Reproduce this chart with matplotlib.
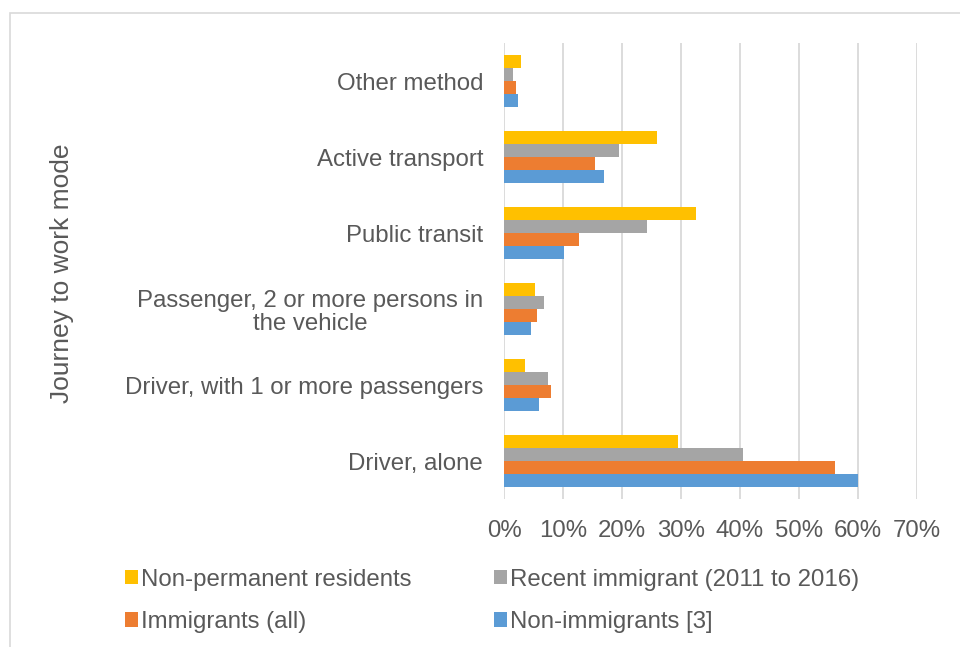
import numpy as np
import matplotlib
matplotlib.use("Agg")
import matplotlib.pyplot as plt
from matplotlib.patches import Rectangle

plt.rcParams['font.family'] = ['Liberation Sans', 'DejaVu Sans']

# journey to work mode, bottom to top
modes = ["Driver, alone",
         "Driver, with 1 or more passengers",
         "Passenger, 2 or more persons in\nthe vehicle",
         "Public transit",
         "Active transport",
         "Other method"]

# shares of commuters by group
non_immigrants = [0.600, 0.059, 0.045, 0.101, 0.170, 0.024]
immigrants_all = [0.561, 0.079, 0.056, 0.127, 0.155, 0.021]
recent_immigrant = [0.405, 0.074, 0.067, 0.242, 0.195, 0.015]
non_permanent = [0.295, 0.036, 0.052, 0.325, 0.260, 0.029]

series = [
    ("Non-immigrants [3]", non_immigrants, "#5B9BD5"),
    ("Immigrants (all)", immigrants_all, "#ED7D31"),
    ("Recent immigrant (2011 to 2016)", recent_immigrant, "#A5A5A5"),
    ("Non-permanent residents", non_permanent, "#FFC000"),
]

text_col = "#595959"
grid_col = "#D9D9D9"
fs = 17.3

fig = plt.figure(figsize=(9.6, 6.47), dpi=100)
ax = fig.add_axes([0.525, 0.2287, 0.4302, 0.7048])

# outer chart frame
fig.patches.append(Rectangle((10 / 960, -0.1), 1.2, 1 - 13 / 647 + 0.1,
                             transform=fig.transFigure, fill=False,
                             edgecolor=grid_col, linewidth=1.2))

y = np.arange(len(modes))
h = 0.1725
handles = {}
for i, (name, vals, col) in enumerate(series):
    offs = (i - 1.5) * h
    b = ax.barh(y + offs, vals, height=h, color=col, label=name, zorder=3)
    handles[name] = b

ax.set_xlim(0, 0.7)
ax.set_ylim(-0.5, len(modes) - 0.5)
ax.set_xticks(np.arange(0, 0.71, 0.1))
ax.set_xticklabels([f"{int(round(t * 100))}%" for t in np.arange(0, 0.71, 0.1)])
ax.set_yticks(y)
ax.set_yticklabels(modes, multialignment="center", linespacing=1.1)
ax.grid(axis="x", color=grid_col, linewidth=1.3, zorder=0)
for s in ax.spines.values():
    s.set_visible(False)
ax.tick_params(axis="both", length=0, labelsize=fs, labelcolor=text_col)
ax.tick_params(axis="x", pad=15)
ax.tick_params(axis="y", pad=15)

fig.text(62 / 960, 1 - 273 / 647, "Journey to work mode", rotation=90,
         ha="center", va="center", fontsize=19, color=text_col)

order = ["Non-permanent residents", "Immigrants (all)",
         "Recent immigrant (2011 to 2016)", "Non-immigrants [3]"]
leg = fig.legend([handles[n] for n in order], order, ncol=2,
                 loc="upper left", bbox_to_anchor=(115 / 960, 1 - 559 / 647),
                 frameon=False, fontsize=fs, handlelength=0.55,
                 handleheight=0.55, handletextpad=0.15, columnspacing=3.4,
                 labelspacing=0.85, borderaxespad=0)
for t in leg.get_texts():
    t.set_color(text_col)

fig.savefig("out.png", dpi=100, facecolor="white")
